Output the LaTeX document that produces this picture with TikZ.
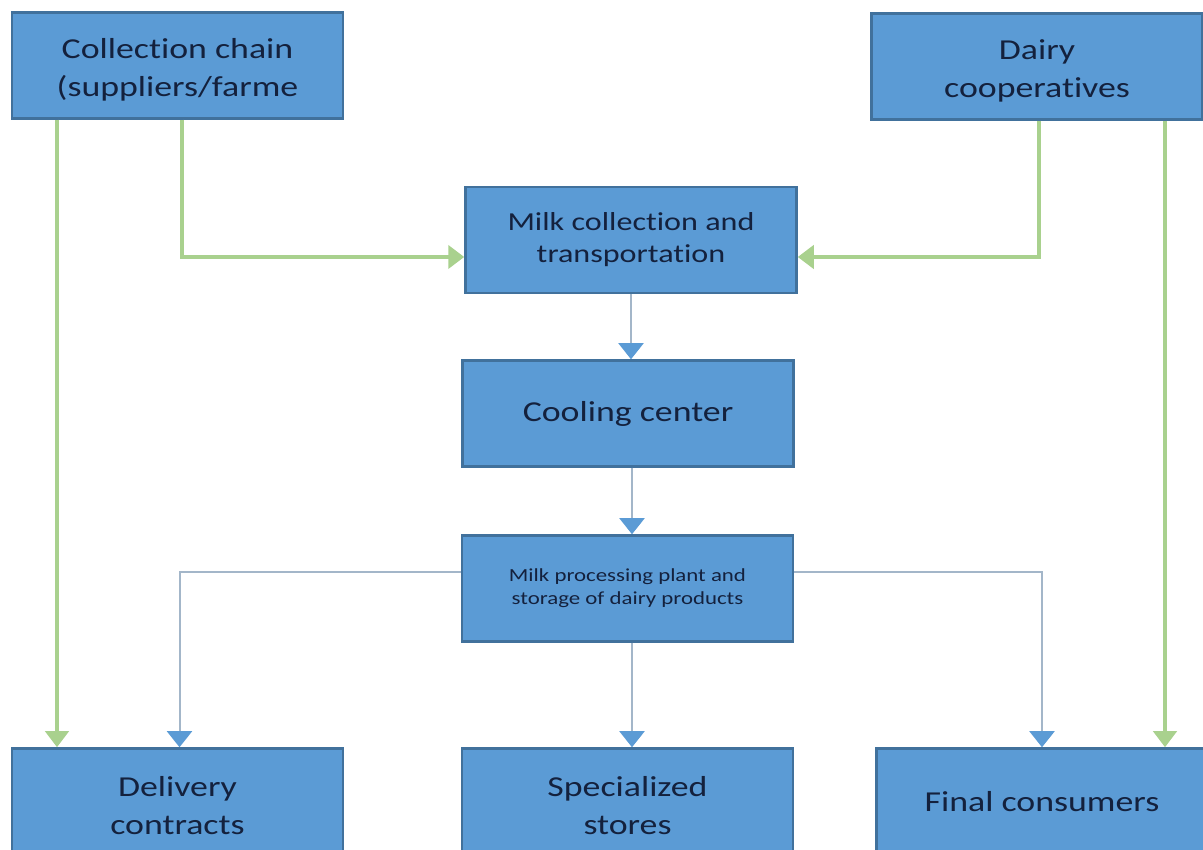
\documentclass[tikz,border=0pt]{standalone}
\usepackage{fontspec}
\setmainfont{Carlito}[FakeStretch=1.24,RawFeature={-liga;-clig;-dlig;-calt;-ccmp}]
\usetikzlibrary{arrows.meta}
\definecolor{boxfill}{HTML}{5B9BD5}
\definecolor{boxline}{HTML}{41719C}
\definecolor{boxtext}{HTML}{14213D}
\definecolor{greenline}{HTML}{A9D18E}
\definecolor{blueline}{HTML}{A3B6C9}
\newcommand{\lowstrut}{\rule{0pt}{29bp}}
\tikzset{
  stagebox/.style={draw=boxline,fill=boxfill,line width=2.5bp,text=boxtext,
    minimum width=331bp,minimum height=106bp,inner sep=0pt,align=center},
  bigtext/.style={font=\fontsize{29}{38}\selectfont},
  midtext/.style={font=\fontsize{26}{32}\selectfont},
  smalltext/.style={font=\fontsize{18.5}{23}\selectfont},
  greenflow/.style={draw=greenline,line width=4bp,
    -{Triangle[width=23bp,length=16bp,fill=greenline]}},
  blueflow/.style={draw=blueline,line width=2bp,
    -{Triangle[width=25bp,length=16bp,color=boxfill]}},
}
\begin{document}
\begin{tikzpicture}[>=latex,line join=miter]
  \useasboundingbox (0bp,0bp) rectangle (1203bp,850bp);
  \clip (0bp,0bp) rectangle (1203bp,850bp);
%%
  % Node: coll
  \node (coll) at (177.5bp,784.5bp) [stagebox,bigtext] {\lowstrut Collection chain\\(suppliers/farme};
  % Node: dairy
  \node (dairy) at (1037bp,783.5bp) [stagebox,bigtext] {\lowstrut Dairy\\cooperatives};
  % Node: mct
  \node (mct) at (631bp,610bp) [stagebox,midtext] {Milk collection and\\transportation};
  % Node: cool
  \node (cool) at (628bp,436.5bp) [stagebox,bigtext] {Cooling center};
  % Node: proc
  \node (proc) at (627.5bp,261.5bp) [stagebox,smalltext] {Milk processing plant and\\storage of dairy products};
  % Node: deliv
  \node (deliv) at (177.5bp,48.5bp) [stagebox,bigtext] {\lowstrut Delivery\\contracts};
  % Node: stores
  \node (stores) at (627.5bp,48.5bp) [stagebox,bigtext] {\lowstrut Specialized\\stores};
  % Node: cons
  \node (cons) at (1042bp,48.5bp) [stagebox,bigtext] {Final consumers};
%
  % Edge: coll -> deliv
  \draw [greenflow] ([xshift=-120.5bp]coll.south) -- ([xshift=-120.5bp]coll.south |- deliv.north);
  % Edge: coll -> mct
  \draw [greenflow] ([xshift=4.5bp]coll.south) |- ([yshift=-17bp]mct.west);
  % Edge: dairy -> mct
  \draw [greenflow] ([xshift=2bp]dairy.south) |- ([yshift=-17bp]mct.east);
  % Edge: dairy -> cons
  \draw [greenflow] ([xshift=128bp]dairy.south) -- ([xshift=128bp]dairy.south |- cons.north);
  % Edge: mct -> cool
  \draw [blueflow] (mct.south) -- (mct.south |- cool.north);
  % Edge: cool -> proc
  \draw [blueflow] ([xshift=4bp]cool.south) -- ([xshift=4bp]cool.south |- proc.north);
  % Edge: proc -> deliv
  \draw [blueflow] ([yshift=16.5bp]proc.west) -| ([xshift=2bp]deliv.north);
  % Edge: proc -> stores
  \draw [blueflow] ([xshift=4.5bp]proc.south) -- ([xshift=4.5bp]proc.south |- stores.north);
  % Edge: proc -> cons
  \draw [blueflow] ([yshift=16.5bp]proc.east) -| (cons.north);
%
\end{tikzpicture}
\end{document}
